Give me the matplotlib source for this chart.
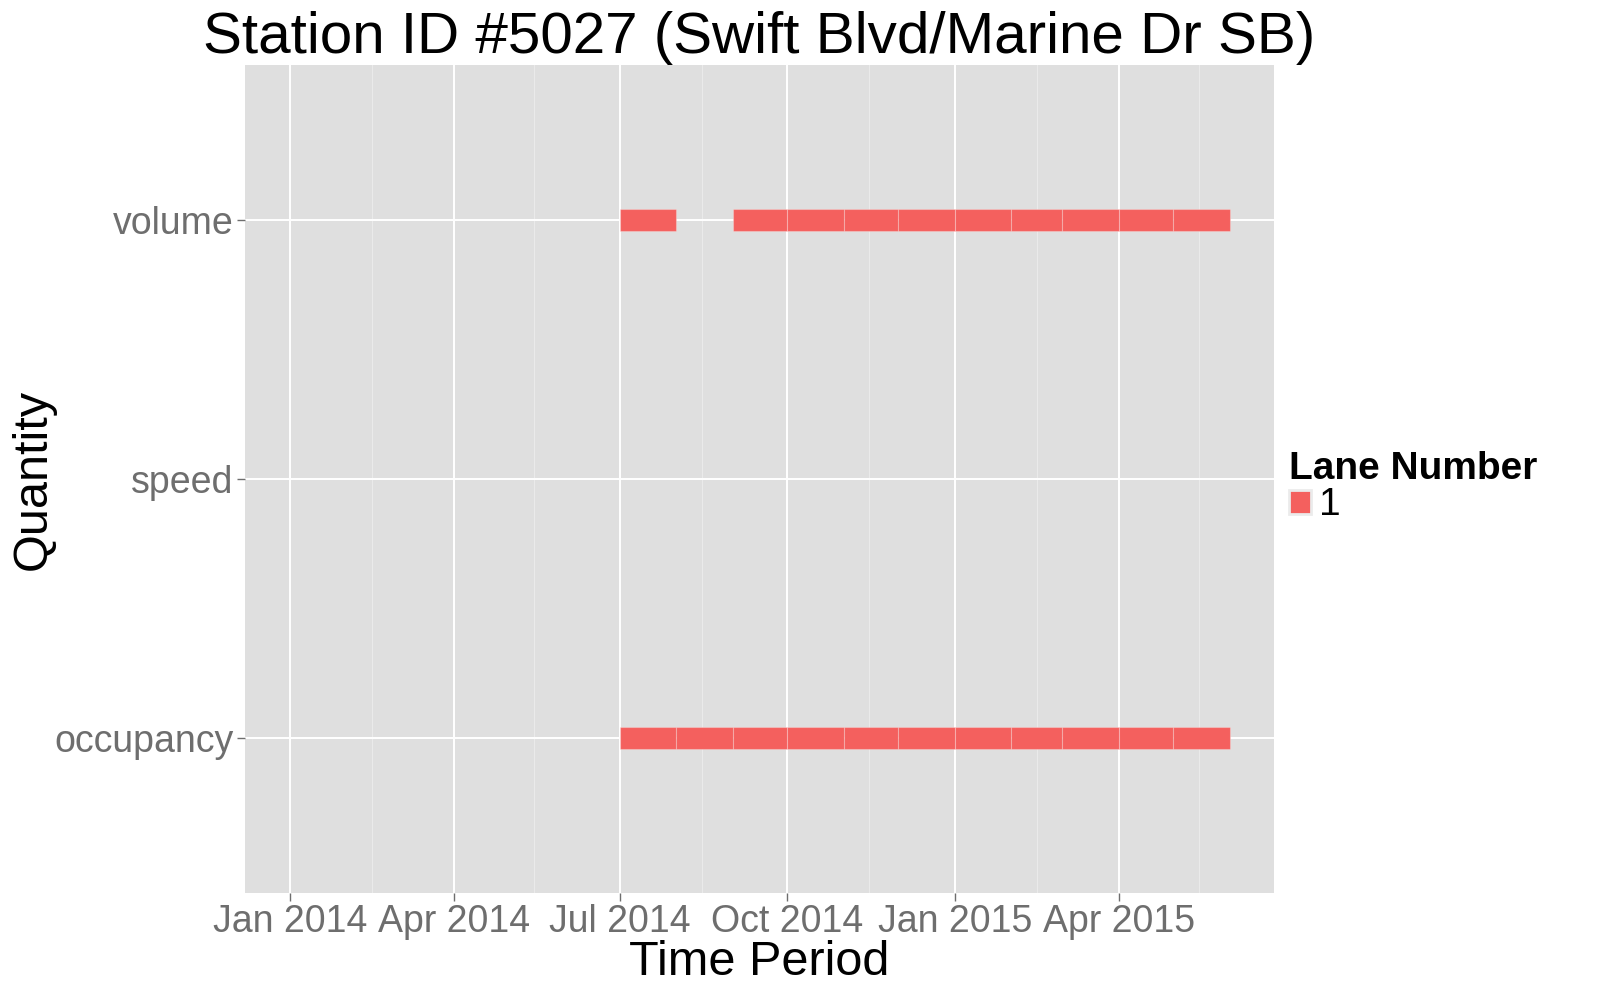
import datetime as dt
import matplotlib
matplotlib.use("Agg")
import matplotlib.pyplot as plt
import matplotlib.dates as mdates
from matplotlib.patches import Patch

plt.rcParams['font.family'] = ['Liberation Sans', 'DejaVu Sans']

# data: monthly tiles where a quantity was recorded (lane 1)
quantities = ["occupancy", "speed", "volume"]
occupancy_months = ["2014-07", "2014-08", "2014-09", "2014-10", "2014-11", "2014-12",
                    "2015-01", "2015-02", "2015-03", "2015-04", "2015-05"]
speed_months = []
volume_months = ["2014-07", "2014-09", "2014-10", "2014-11", "2014-12",
                 "2015-01", "2015-02", "2015-03", "2015-04", "2015-05"]
lane_labels = ["1"]

TILE_COLOR = "#F4605E"
PANEL_BG = "#DFDFDF"
TEXT_GREY = "#6E6E6E"


def month_span(s):
    y, m = map(int, s.split("-"))
    start = dt.date(y, m, 1)
    end = dt.date(y + (m == 12), m % 12 + 1, 1)
    return mdates.date2num(start), (end - start).days


fig = plt.figure(figsize=(16, 10), dpi=100)
ax = fig.add_axes([0.153, 0.107, 0.643, 0.828])
ax.set_facecolor(PANEL_BG)

series = {"occupancy": occupancy_months, "speed": speed_months, "volume": volume_months}
for i, q in enumerate(quantities):
    for mon in series[q]:
        left, width = month_span(mon)
        ax.barh(i, width, left=left, height=0.085, color=TILE_COLOR,
                edgecolor=(1, 1, 1, 0.25), linewidth=0.8, zorder=3)

ax.xaxis_date()
ax.set_xlim(mdates.date2num(dt.date(2013, 12, 7)), mdates.date2num(dt.date(2015, 6, 25)))
ax.set_ylim(-0.6, 2.6)
ax.set_yticks(range(len(quantities)))
ax.set_yticklabels(quantities)

ax.xaxis.set_major_locator(mdates.MonthLocator(bymonth=[1, 4, 7, 10]))
ax.xaxis.set_major_formatter(mdates.DateFormatter('%b %Y'))
ax.xaxis.set_minor_locator(mdates.MonthLocator(bymonth=[2, 5, 8, 11], bymonthday=15))

ax.grid(True, which='major', color='white', linewidth=1.4, zorder=0)
ax.grid(True, which='minor', axis='x', color='#EAEAEA', linewidth=0.8, zorder=0)
ax.set_axisbelow(True)

for sp in ax.spines.values():
    sp.set_visible(False)

ax.tick_params(axis='both', which='major', labelsize=27, colors=TEXT_GREY,
               length=6, width=1, pad=2)
ax.tick_params(axis='x', which='minor', length=0)

ax.set_xlabel("Time Period", fontsize=35, labelpad=0)
ax.set_ylabel("Quantity", fontsize=35)
ax.yaxis.set_label_coords(-0.184, 0.5)
ax.set_title("Station ID #5027 (Swift Blvd/Marine Dr SB)", fontsize=42, pad=-7)

handles = [Patch(facecolor=TILE_COLOR, edgecolor='#EBEBEB', linewidth=2)]
leg = ax.legend(handles, lane_labels, title="Lane Number", loc='center left',
                bbox_to_anchor=(1.015, 0.49), frameon=False, fontsize=28,
                title_fontproperties={'size': 28, 'weight': 'bold'},
                handlelength=0.57, handleheight=0.57, handletextpad=0.2,
                borderpad=0, borderaxespad=0, alignment='left', labelspacing=0)

fig.savefig("out.png", dpi=100)
